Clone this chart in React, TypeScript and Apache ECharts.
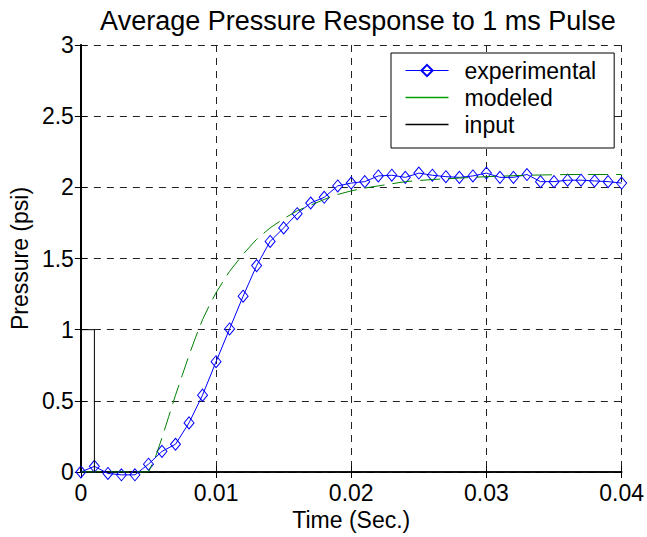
import React, { useEffect, useRef } from "react";
import * as echarts from "echarts";

const expTime = [
  0, 0.001, 0.002, 0.003, 0.004, 0.005, 0.006, 0.007, 0.008, 0.009, 0.01,
  0.011, 0.012, 0.013, 0.014, 0.015, 0.016, 0.017, 0.018, 0.019, 0.02,
  0.021, 0.022, 0.023, 0.024, 0.025, 0.026, 0.027, 0.028, 0.029, 0.03,
  0.031, 0.032, 0.033, 0.034, 0.035, 0.036, 0.037, 0.038, 0.039, 0.04,
];
const expPressure = [
  0.0, 0.04, -0.01, -0.02, -0.02, 0.055, 0.145, 0.195, 0.345, 0.54, 0.775,
  1.005, 1.235, 1.45, 1.62, 1.715, 1.815, 1.89, 1.93, 2.01, 2.03,
  2.04, 2.08, 2.085, 2.07, 2.1, 2.085, 2.075, 2.07, 2.08, 2.1,
  2.07, 2.07, 2.09, 2.04, 2.04, 2.05, 2.05, 2.045, 2.04, 2.03,
];

const modTime = [
  0, 0.001, 0.002, 0.003, 0.004, 0.005, 0.0055, 0.006, 0.0065, 0.007, 0.0075,
  0.008, 0.0085, 0.009, 0.0095, 0.01, 0.011, 0.012, 0.013, 0.014, 0.015,
  0.016, 0.017, 0.018, 0.019, 0.02, 0.021, 0.022, 0.023, 0.024, 0.026,
  0.028, 0.03, 0.033, 0.036, 0.04,
];
const modPressure = [
  0, 0, 0, 0, 0, 0, 0.1, 0.24, 0.39, 0.54, 0.68,
  0.82, 0.95, 1.07, 1.17, 1.26, 1.41, 1.53, 1.635, 1.715, 1.78,
  1.835, 1.875, 1.915, 1.95, 1.975, 1.995, 2.01, 2.025, 2.04, 2.055,
  2.065, 2.075, 2.085, 2.09, 2.09,
];

const inputTime = [0, 0, 0.001, 0.001];
const inputValue = [0, 1, 1, 0];

const xTicks = [0, 0.01, 0.02, 0.03, 0.04];
const yTicks = [0, 0.5, 1, 1.5, 2, 2.5, 3];

const FONT = "'Liberation Sans', Arial, Helvetica, sans-serif";
const LINE_ICON = "path://M0,0H43V1.6H0Z";

export default function App() {
  const ref = useRef<HTMLDivElement>(null);
  useEffect(() => {
    if (!ref.current) return;
    const chart = echarts.init(ref.current, null, { renderer: "svg" });
    const zip = (a: number[], b: number[]) => a.map((v, i) => [v, b[i]]);
    const axisLine = { show: true, lineStyle: { color: "#000", width: 1.5 } };
    const gridLine = {
      show: true,
      lineStyle: { color: "#222", type: [7, 6] as any, width: 1 },
    };
    const tick = { show: true, inside: true, length: 6, lineStyle: { color: "#000", width: 1 } };
    chart.setOption({
      animation: false,
      backgroundColor: "#fff",
      textStyle: { fontFamily: FONT },
      title: {
        text: "Average Pressure Response to 1 ms Pulse",
        left: 353,
        textAlign: "center",
        top: 2,
        textStyle: { fontFamily: FONT, fontSize: 27, fontWeight: "normal", color: "#000" },
      },
      grid: { left: 80, right: 23, top: 45, bottom: 65 },
      legend: {
        orient: "vertical",
        left: 391,
        top: 53,
        padding: [6, 18, 12, 14],
        itemGap: 4,
        itemWidth: 43,
        itemHeight: 14,
        symbolKeepAspect: true,
        backgroundColor: "#fff",
        borderColor: "#000",
        borderWidth: 1,
        lineStyle: { width: 1 },
        textStyle: { fontFamily: FONT, fontSize: 23, color: "#000", padding: [0, 0, 0, 11] },
        data: [
          { name: "experimental" },
          { name: "modeled", icon: LINE_ICON, itemStyle: { color: "#00a000", borderWidth: 0, opacity: 1 } },
          { name: "input", icon: LINE_ICON, itemStyle: { color: "#000", borderWidth: 0, opacity: 1 } },
        ],
      },
      xAxis: [
        {
          type: "value",
          min: 0,
          max: 0.04,
          interval: 0.01,
          axisLine,
          axisTick: tick,
          splitLine: gridLine,
          axisLabel: {
            fontFamily: FONT,
            fontSize: 23,
            color: "#000",
            margin: 9,
            formatter: (v: number) => (xTicks.includes(v) ? String(v) : ""),
          },
          name: "Time (Sec.)",
          nameLocation: "middle",
          nameGap: 35,
          nameTextStyle: { fontFamily: FONT, fontSize: 23, color: "#000" },
        },
        {
          type: "value",
          position: "top",
          min: 0,
          max: 0.04,
          interval: 0.01,
          axisLine,
          axisTick: tick,
          splitLine: { show: false },
          axisLabel: { show: false },
        },
      ],
      yAxis: [
        {
          type: "value",
          min: 0,
          max: 3,
          interval: 0.5,
          axisLine: { show: true, lineStyle: { color: "#000", width: 2 } },
          axisTick: tick,
          splitLine: gridLine,
          axisLabel: {
            fontFamily: FONT,
            fontSize: 23,
            color: "#000",
            margin: 7,
            formatter: (v: number) => (yTicks.includes(v) ? String(v) : ""),
          },
          name: "Pressure (psi)",
          nameLocation: "middle",
          nameGap: 46,
          nameTextStyle: { fontFamily: FONT, fontSize: 23, color: "#000" },
        },
        {
          type: "value",
          position: "right",
          min: 0,
          max: 3,
          interval: 0.5,
          axisLine,
          axisTick: tick,
          splitLine: { show: false },
          axisLabel: { show: false },
        },
      ],
      series: [
        {
          name: "experimental",
          type: "line",
          data: zip(expTime, expPressure),
          symbol: "diamond",
          symbolSize: [10, 12],
          showAllSymbol: true,
          lineStyle: { color: "#0000ff", width: 1 },
          itemStyle: { color: "rgba(0,0,0,0)", borderColor: "#0000ff", borderWidth: 1 },
          clip: false,
          z: 3,
        },
        {
          name: "modeled",
          type: "line",
          data: zip(modTime, modPressure),
          showSymbol: false,
          symbol: "none",
          color: "#008000",
          lineStyle: { color: "#008000", width: 1, type: [20, 8] as any },
          itemStyle: { color: "#008000" },
          z: 4,
        },
        {
          name: "input",
          type: "line",
          data: zip(inputTime, inputValue),
          showSymbol: false,
          symbol: "none",
          color: "#000",
          lineStyle: { color: "#000", width: 1 },
          itemStyle: { color: "#000" },
          z: 4,
        },
      ],
    });
    return () => chart.dispose();
  }, []);
  return (
    <div
      ref={ref}
      style={{ position: "fixed", left: 0, top: 0, width: 647, height: 537 }}
    />
  );
}
